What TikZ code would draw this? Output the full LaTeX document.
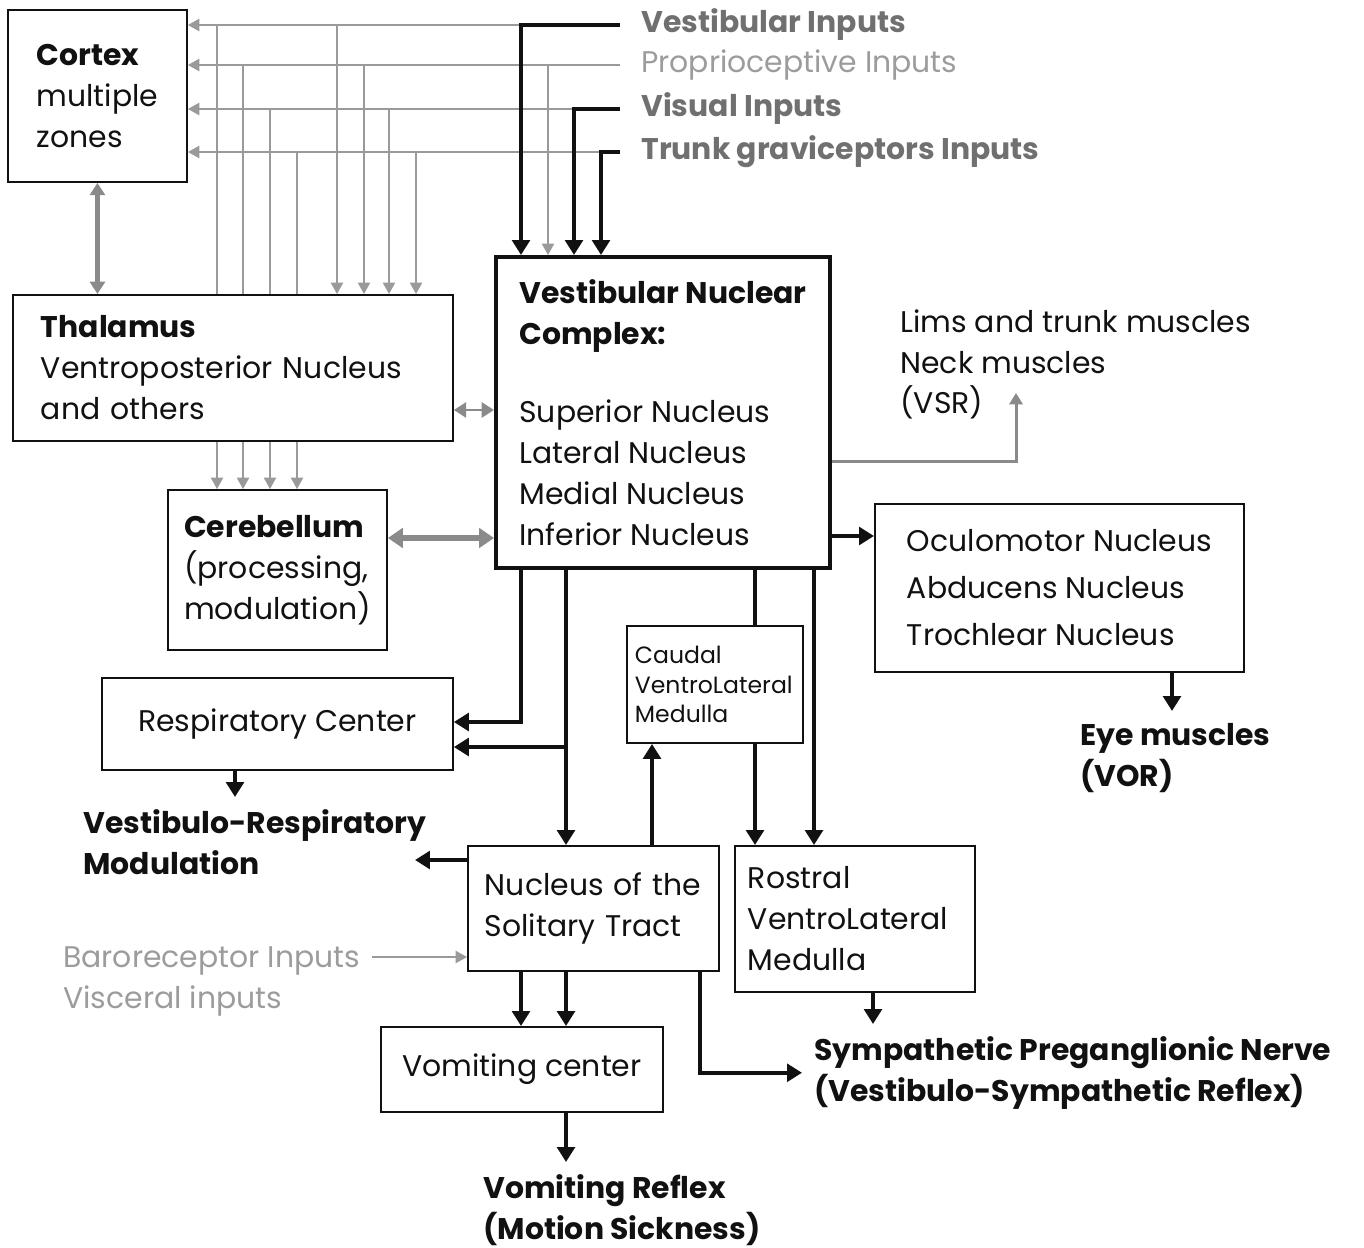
\documentclass[tikz,border=0pt]{standalone}
\usepackage{fontspec}
\setmainfont{Poppins}
\usetikzlibrary{arrows.meta,positioning}
\definecolor{inkK}{HTML}{111111}
\definecolor{gLine}{HTML}{9A9A9A}
\definecolor{gArr}{HTML}{8A8A8A}
\definecolor{gText}{HTML}{707070}
\definecolor{lText}{HTML}{9C9C9C}
\newcommand\bodyfont{\fontsize{17}{23.3}\selectfont}
\newcommand\smallbody{\fontsize{13.4}{17}\selectfont}

\begin{document}
\begin{tikzpicture}[x=0.02cm, y=-0.02cm,
  box/.style={draw=inkK, line width=1.1pt, anchor=north west, align=left,
              inner sep=0pt, font=\bodyfont, text=inkK},
  lbl/.style={anchor=north west, align=left, inner sep=0.24cm,
              font=\bodyfont\bfseries, text=inkK},
  inlbl/.style={inner xsep=0pt, font=\bodyfont\bfseries, text=gText},
  bline/.style={draw=inkK, line width=2.5pt},
  barr/.style={bline, -{Triangle[length=8.5pt,width=10pt]}},
  gline/.style={draw=gLine, line width=0.9pt},
  garr/.style={gline, -{Triangle[length=6.5pt,width=7pt]}},
  gdbl/.style={draw=gArr, line width=2.6pt,
               {Triangle[length=7pt,width=8.5pt]}-{Triangle[length=7pt,width=8.5pt]}}
]
  \useasboundingbox (0,0) rectangle (1364,1247);

  % rows and columns
  \coordinate (rVest) at (620,25);
  \coordinate (rProp) at (620,65);
  \coordinate (rVis) at (620,109);
  \coordinate (rTrunk) at (620,152);
  \coordinate (cVest) at (521,0);
  \coordinate (cProp) at (548,0);
  \coordinate (cVis) at (574,0);
  \coordinate (cTrunk) at (601,0);
  \coordinate (cMid) at (566,0);
  \coordinate (cUp) at (652,0);
  \coordinate (cCaud) at (755,0);
  \coordinate (cRost) at (814,0);
  \coordinate (cSym) at (700,0);
  \coordinate (cOut) at (873,0);
  \coordinate (cEye) at (1172,0);
  \coordinate (cVrm) at (235,0);

  % boxes
  \node[box, minimum width=3.58cm, minimum height=3.44cm] (cortex) at (7,9)
    {\textbf{Cortex}\\multiple\\zones};
  \node[box, minimum width=8.8cm, minimum height=2.92cm, text width=7.68cm] (thal) at (12,294)
    {\textbf{Thalamus}\\Ventroposterior Nucleus\\and others};
  \node[box, line width=2.4pt, minimum width=6.68cm, minimum height=6.22cm] (vnc) at (494,255)
    {\textbf{Vestibular Nuclear}\\\textbf{Complex:}\\[21pt]Superior Nucleus\\Lateral Nucleus\\Medial Nucleus\\Inferior Nucleus};
  \node[box, minimum width=4.38cm, minimum height=3.2cm] (cereb) at (167,489)
    {\textbf{Cerebellum}\\(processing,\\modulation)};
  \node[box, minimum width=7.02cm, minimum height=1.84cm] (resp) at (101,677)
    {Respiratory Center};
  \node[box, minimum width=3.52cm, minimum height=2.34cm, text width=3.2cm, font=\smallbody] (cvlm) at (626,625)
    {Caudal\\VentroLateral\\Medulla};
  \node[box, minimum width=5.02cm, minimum height=2.5cm, text width=4.34cm] (nts) at (467,845)
    {Nucleus of the\\Solitary Tract};
  \node[box, minimum width=4.8cm, minimum height=2.92cm, text width=4.28cm] (rvlm) at (734,845)
    {Rostral\\VentroLateral\\Medulla};
  \node[box, minimum width=5.64cm, minimum height=1.7cm] (vomit) at (380,1026)
    {Vomiting center};
  \node[box, minimum width=7.38cm, minimum height=3.36cm, font=\fontsize{17}{26.7}\selectfont] (oculo) at (874,503)
    {Oculomotor Nucleus\\Abducens Nucleus\\Trochlear Nucleus};

  % labels
  \node[inlbl, right=0.42cm of rVest] (vestin) {Vestibular Inputs};
  \node[inlbl, right=0.42cm of rProp, font=\bodyfont, text=lText] (propin) {Proprioceptive Inputs};
  \node[inlbl, right=0.42cm of rVis] (visin) {Visual Inputs};
  \node[inlbl, right=0.42cm of rTrunk] (trunkin) {Trunk graviceptors Inputs};
  \node[lbl, font=\bodyfont] (vsr) at (888,297) {Lims and trunk muscles\\Neck muscles\\(VSR)};
  \node[lbl] (eye) at (1068,711) {Eye muscles\\(VOR)};
  \node[lbl] (vrm) at (71,797) {Vestibulo-Respiratory\\Modulation};
  \node[lbl, font=\bodyfont, text=lText] (baro) at (51,934) {Baroreceptor Inputs\\Visceral inputs};
  \node[lbl] (symp) at (802,1024) {Sympathetic Preganglionic Nerve\\(Vestibulo-Sympathetic Reflex)};
  \node[lbl] (reflex) at (471,1162) {Vomiting Reflex\\(Motion Sickness)};
  \coordinate (vsrtip) at (1016,393);
  \coordinate (vrmtip) at (415,860);

  % grey paths to cortex and thalamus
  \foreach \xu/\xd/\r/\s [count=\i] in {217/337/rVest/cVest, 243/364/rProp/rProp,
                                        270/389/rVis/cVis, 297/416/rTrunk/cTrunk}{
    \coordinate (up\i) at (\xu,0);
    \coordinate (dn\i) at (\xd,0);
    \draw[garr] (\r -| \s) -- (cortex.east |- \r);
    \draw[gline] (thal.north -| up\i) -- (\r -| up\i);
    \draw[garr] (\r -| dn\i) -- (thal.north -| dn\i);
    \draw[garr] (thal.south -| up\i) -- (cereb.north -| up\i);
  }
  \draw[garr] (rProp -| cProp) -- (vnc.north -| cProp);

  % inputs to the nuclear complex
  \draw[barr] (rVest) -| (vnc.north -| cVest);
  \draw[barr] (rVis) -| (vnc.north -| cVis);
  \draw[barr] (rTrunk) -| (vnc.north -| cTrunk);

  % two-way links
  \draw[gdbl] (cortex.south) -- (cortex.south |- thal.north);
  \draw[gdbl, line width=1.6pt] (thal.east |- 0,410) -- (vnc.west |- 0,410);
  \draw[gdbl, line width=3.4pt, {Triangle[length=8.5pt,width=11pt]}-{Triangle[length=8.5pt,width=11pt]}]
    (cereb.east |- 0,538) -- (vnc.west |- 0,538);

  % outputs of the nuclear complex
  \draw[gArr, line width=1.7pt, -{Triangle[length=6.5pt,width=7.5pt]}] (vnc.east |- 0,461) -| (vsrtip);
  \draw[barr] (vnc.east |- 0,536) -- (oculo.west |- 0,536);
  \draw[barr] (oculo.south -| cEye) -- (eye.north -| cEye);
  \draw[barr] (vnc.south -| cVest) |- (resp.east |- 0,722);
  \draw[barr] (vnc.south -| cMid) -- (nts.north -| cMid);
  \draw[barr] (nts.north -| cMid) ++(0,-98) -- (resp.east |- 0,747);
  \draw[barr] (resp.south -| cVrm) -- (vrm.north -| cVrm);
  \draw[bline] (vnc.south -| cCaud) -- (cvlm.north -| cCaud);
  \draw[barr] (cvlm.south -| cCaud) -- (rvlm.north -| cCaud);
  \draw[barr] (vnc.south -| cRost) -- (rvlm.north -| cRost);

  % solitary tract
  \draw[barr] (nts.north -| cUp) -- (cvlm.south -| cUp);
  \draw[barr] (nts.west |- 0,860) -- (vrmtip);
  \draw[garr] (baro.east |- 0,957) -- (nts.west |- 0,957);
  \draw[barr] (nts.south -| cVest) -- (vomit.north -| cVest);
  \draw[barr] (nts.south -| cMid) -- (vomit.north -| cMid);
  \draw[barr] (nts.south -| cSym) |- (symp.west);
  \draw[barr] (rvlm.south -| cOut) -- (symp.north -| cOut);
  \draw[barr] (vomit.south -| cMid) -- (reflex.north -| cMid);
\end{tikzpicture}
\end{document}
